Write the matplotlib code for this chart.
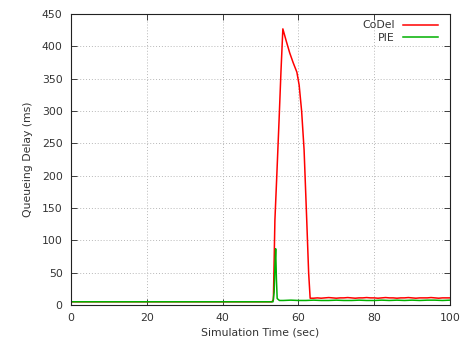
import matplotlib
matplotlib.use("Agg")
import matplotlib.pyplot as plt

# CoDel queueing delay (ms) vs simulation time (s)
codel_t = [0, 10, 20, 30, 40, 50, 53.0, 53.4, 53.8, 54.3, 54.9, 55.4, 55.9,
           56.8, 57.7, 58.6, 59.6, 60.2, 60.85, 61.5, 62.2, 62.7, 63.1,
           64, 65, 66, 67, 68, 69, 70, 71, 72, 73, 74, 75, 76, 77, 78, 79,
           80, 81, 82, 83, 84, 85, 86, 87, 88, 89, 90, 91, 92, 93, 94, 95,
           96, 97, 98, 99, 100]
codel_d = [5, 5, 5, 5, 5, 5, 5, 8, 131, 200, 286, 361, 427,
           408, 390, 375, 360, 340, 300, 240, 131, 50, 10.5,
           10.5, 11, 10.5, 11, 11.5, 11, 10.5, 11, 11, 11.5, 11, 10.5, 11, 11, 11.5, 11,
           11, 10.5, 11, 11.5, 11, 11, 10.5, 11, 11, 11.5, 11, 10.5, 11, 11, 11, 11.5,
           11, 10.5, 11, 11, 11]

# PIE queueing delay (ms)
pie_t = [0, 10, 20, 30, 40, 50, 53.3, 53.6, 53.8, 54.0, 54.2, 54.4, 55,
         56, 58, 60, 62, 64, 66, 68, 70, 72, 74, 76, 78, 80, 82, 84, 86,
         88, 90, 92, 94, 96, 98, 100]
pie_d = [5, 5, 5, 5, 5, 5, 5, 20, 60, 87, 40, 10, 7,
         7, 7.5, 7, 7, 7.5, 7, 7, 7.5, 7, 7, 7.5, 7, 7, 7.5, 7, 7.5,
         7, 7.5, 7, 7.5, 7.5, 7, 7.5]

x_ticks = [0, 20, 40, 60, 80, 100]
y_ticks = [0, 50, 100, 150, 200, 250, 300, 350, 400, 450]

plt.rcParams["font.family"] = "DejaVu Sans"
fig = plt.figure(figsize=(4.61, 3.47), dpi=100)
ax = fig.add_axes([71 / 461, 42 / 347, 379 / 461, 291 / 347])

ax.plot(codel_t, codel_d, color="#ff0000", linewidth=1.1, label="CoDel")
ax.plot(pie_t, pie_d, color="#00b000", linewidth=1.1, label="PIE")

ax.set_xlim(0, 100)
ax.set_ylim(0, 450)
ax.set_xticks(x_ticks)
ax.set_yticks(y_ticks)
ax.tick_params(direction="in", length=4, width=0.6, top=True, right=True,
               labelsize=7.8, colors="#222222", labelcolor="#333333", pad=6)
ax.grid(True, color="#b8b8b8", linestyle=(0, (1, 2)), linewidth=0.7)
for s in ax.spines.values():
    s.set_linewidth(0.8)
    s.set_color("#222222")

ax.set_xlabel("Simulation Time (sec)", fontsize=7.8, color="#333333", labelpad=3)
ax.set_ylabel("Queueing Delay (ms)", fontsize=7.8, color="#333333", labelpad=6)

leg = ax.legend(loc="upper right", frameon=False, markerfirst=False, fontsize=7.8,
                handlelength=3.2, handletextpad=0.8, labelspacing=0.25,
                borderaxespad=0.2, bbox_to_anchor=(0.985, 1.0))
for txt in leg.get_texts():
    txt.set_color("#333333")

fig.savefig("out.png", dpi=100)
